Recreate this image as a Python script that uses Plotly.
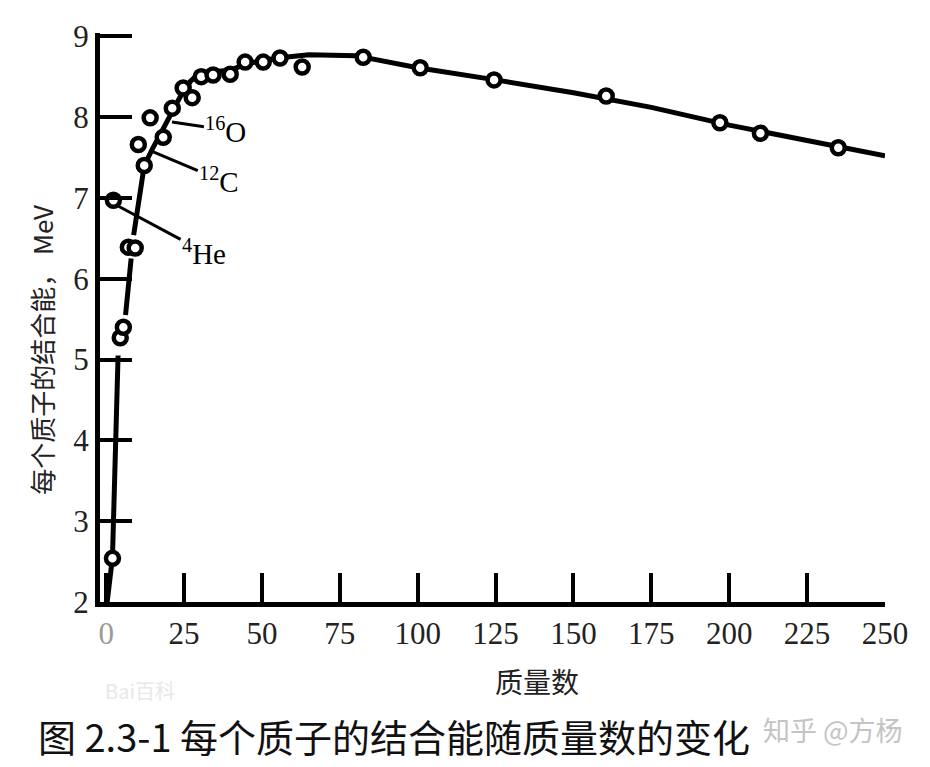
import plotly.graph_objects as go

# ---- data ----
curve_mass = [0.3, 2.0, 3.8, None, 6.2, 8.0, None, 8.8, 12.2, 15, 18, 21, 24, 27, 30,
              40, 45, 55, 65, 80, 90, 100, 125, 150, 175, 200, 225, 250]
curve_be = [2.0, 2.55, 5.05, None, 5.55, 6.25, None, 6.54, 7.40, 7.62, 7.84, 8.06, 8.27, 8.44, 8.55,
            8.58, 8.66, 8.73, 8.77, 8.76, 8.68, 8.61, 8.46, 8.30, 8.12, 7.90, 7.71, 7.52]

point_mass = [2.0, 2.3, 4.5, 5.5, 7.1, 9.3, 10.3, 12.2, 14.1, 18.3, 21.2, 24.7, 27.6,
              30.5, 34.3, 39.8, 44.6, 50.4, 55.8, 62.9, 82.5, 100.8, 124.5, 160.5, 197, 210, 235]
point_be = [2.54, 6.97, 5.27, 5.40, 6.39, 6.38, 7.66, 7.40, 7.99, 7.75, 8.11, 8.36, 8.24,
            8.50, 8.52, 8.53, 8.68, 8.68, 8.73, 8.62, 8.74, 8.61, 8.46, 8.26, 7.93, 7.80, 7.62]

x_ticks = [0, 25, 50, 75, 100, 125, 150, 175, 200, 225, 250]
x_ticktext = ["<span style='color:#9a9a9a'>0</span>"] + [str(v) for v in x_ticks[1:]]
y_ticks = [2, 3, 4, 5, 6, 7, 8, 9]

# nuclide labels: point on curve, label text, pixel offset of the label
label_mass = [21.1, 15.1, 3.8]
label_be = [7.94, 7.57, 6.90]
label_text = ["<sup>16</sup>O", "<sup>12</sup>C", "<sup>4</sup>He"]
label_ax = [54, 66, 86]
label_ay = [8, 28, 46]

serif = "Liberation Serif, DejaVu Serif, serif"
cjk = "Noto Sans CJK SC, Noto Sans, sans-serif"

fig = go.Figure()
fig.add_trace(go.Scatter(x=curve_mass, y=curve_be, mode="lines",
                         line=dict(color="black", width=5), connectgaps=False,
                         hoverinfo="skip", showlegend=False))
fig.add_trace(go.Scatter(x=point_mass, y=point_be, mode="markers",
                         marker=dict(symbol="circle", size=13, color="white",
                                     line=dict(color="black", width=4.5)),
                         showlegend=False))

for m, b, t, ax, ay in zip(label_mass, label_be, label_text, label_ax, label_ay):
    fig.add_annotation(x=m, y=b, text=t, showarrow=True, arrowhead=0, arrowwidth=3,
                       arrowcolor="black", ax=ax, ay=ay,
                       font=dict(family=serif, size=29, color="black"))

fig.add_annotation(xref="paper", yref="paper", x=-0.074, y=0.443, text="每个质子的结合能， MeV",
                   textangle=-90, showarrow=False, xanchor="center", yanchor="middle",
                   font=dict(family=cjk, size=26, color="#222"))
fig.add_annotation(xref="paper", yref="paper", x=0.557, y=-0.138, text="质量数",
                   showarrow=False, xanchor="center", yanchor="middle",
                   font=dict(family=cjk, size=28, color="#222"))
fig.add_annotation(xref="paper", yref="paper", x=-0.081, y=-0.234,
                   text="图 2.3-1 每个质子的结合能随质量数的变化",
                   showarrow=False, xanchor="left", yanchor="middle",
                   font=dict(family=cjk, size=38, color="#111"))
fig.add_annotation(xref="paper", yref="paper", x=1.026, y=-0.224, text="知乎 @方杨",
                   showarrow=False, xanchor="right", yanchor="middle",
                   font=dict(family=cjk, size=27, color="#c4c4c4"))
fig.add_annotation(xref="paper", yref="paper", x=0.051, y=-0.156, text="Bai百科",
                   showarrow=False, xanchor="center", yanchor="middle",
                   font=dict(family=cjk, size=20, color="#e8e8e8"))

# the page body adds an 8px margin, so the figure is drawn 8px smaller and shifted
fig.update_layout(
    width=922, height=759,
    margin=dict(l=92, r=45, t=25, b=165),
    paper_bgcolor="white", plot_bgcolor="white",
    xaxis=dict(range=[-2, 250], tickmode="array", tickvals=x_ticks, ticktext=x_ticktext,
               showgrid=False, zeroline=False, showline=True, linecolor="black", linewidth=5,
               ticks="inside", ticklen=29, tickwidth=4, tickcolor="black",
               tickfont=dict(family=serif, size=31, color="#222")),
    yaxis=dict(range=[2, 9.04], tickmode="array", tickvals=y_ticks,
               showgrid=False, zeroline=False, showline=True, linecolor="black", linewidth=5,
               ticks="inside", ticklen=32, tickwidth=4, tickcolor="black",
               tickfont=dict(family=serif, size=31, color="#222")),
)

fig.write_html("out.html")
